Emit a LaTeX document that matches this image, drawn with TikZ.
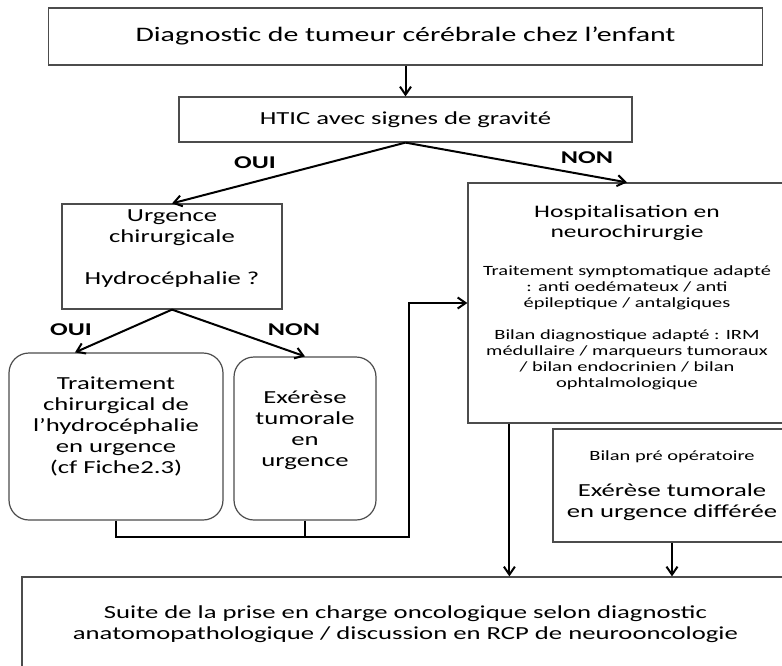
\documentclass[tikz,border=0pt]{standalone}
\usepackage{fontspec}
\setmainfont{Carlito}[FakeStretch=1.45]
\usetikzlibrary{arrows.meta}
\definecolor{edgegray}{gray}{0.3}
% text of a box: width, height, space above the first line, lines
\newcommand{\boxtext}[4]{\parbox[c][#2][t]{#1}{\centering\vspace*{#3}\strut#4}}
\newcommand{\smalltxt}{\fontsize{14.1}{16}\selectfont}

\begin{document}
\begin{tikzpicture}[>={Straight Barb[length=8pt,width=11pt]}, x=1pt, y=-1pt,
        font=\fontsize{18.4}{21}\selectfont,
        box/.style={draw=edgegray, line width=1.2pt, inner sep=0pt},
        roundbox/.style={box, rounded corners=20pt},
        link/.style={line width=2pt},
        answer/.style={font=\fontsize{18}{21}\selectfont\bfseries}]
    % page frame
    \useasboundingbox (0,0) rectangle (782,665);

    % Boxes, top to bottom
    \node[box, minimum width=714, minimum height=57, font=\fontsize{20.6}{24}\selectfont] (diag) at (405.5,36.5) {Diagnostic de tumeur cérébrale chez l’enfant};
    \node[box, minimum width=453, minimum height=45] (htic) at (405.5,119.5) {HTIC avec signes de gravité};
    \node[box] (urg) at (172,256.5) {\boxtext{220pt}{105pt}{3pt}{Urgence\\chirurgicale\\[21pt]Hydrocéphalie ?}};
    \node[box] (hosp) at (627,303) {\boxtext{318pt}{240pt}{20pt}{%
        {\fontsize{17.6}{20}\selectfont Hospitalisation en\\neurochirurgie\par}\vspace{22pt}
        {\smalltxt Traitement symptomatique adapté\\: anti oedémateux / anti\\épileptique / antalgiques\par}\vspace{16pt}
        {\smalltxt Bilan diagnostique adapté : IRM\\médullaire / marqueurs tumoraux\\/ bilan endocrinien / bilan\\ophtalmologique\par}}};
    \node[roundbox] (trt) at (116,436.5) {\boxtext{214pt}{167pt}{22pt}{Traitement\\chirurgical de\\l’hydrocéphalie\\en urgence\\(cf Fiche2.3)}};
    \node[roundbox] (exe) at (305,438.5) {\boxtext{142pt}{163pt}{32pt}{Exérèse\\tumorale\\en\\urgence}};
    \node[box] (bilan) at (672,485.5) {\boxtext{238pt}{113pt}{17pt}{%
        {\smalltxt Bilan pré opératoire\par}\vspace{14.5pt}
        Exérèse tumorale\\en urgence différée}};
    \node[box] (suite) at (405.5,632) {\boxtext{767pt}{110pt}{27pt}{Suite de la prise en charge oncologique selon diagnostic\\anatomopathologique / discussion en RCP de neurooncologie}};

    % Answers on the branches
    \node[answer] (oui1) at (255,163) {OUI};
    \node[answer] (non1) at (587,158) {NON};
    \node[answer] (oui2) at (71,330) {OUI};
    \node[answer] (non2) at (294,330) {NON};

    % Decision arrows
    \draw[link, ->] (diag.south) -- (htic.north);
    \draw[link, ->] (htic.south) -- (urg.north);
    \draw[link, ->] (htic.south) -- (hosp.north);
    \draw[link, ->] (urg.south) -- ([xshift=-41pt]trt.north);
    \draw[link, ->] (urg.south) -- (exe.north);
    % both emergency branches join and go to the ward
    \coordinate (join) at (409,537);
    \draw[link, ->] (trt.south) |- (join) |- (hosp.west);
    \draw[link] (exe.south) -- (exe.south |- join);
    % towards the oncology follow-up
    \path (hosp.south west) ++(42,0) coordinate (ward);
    \draw[link, ->] (ward) -- (ward |- suite.north);
    \draw[link, ->] (bilan.south) -- (bilan.south |- suite.north);
\end{tikzpicture}
\end{document}
